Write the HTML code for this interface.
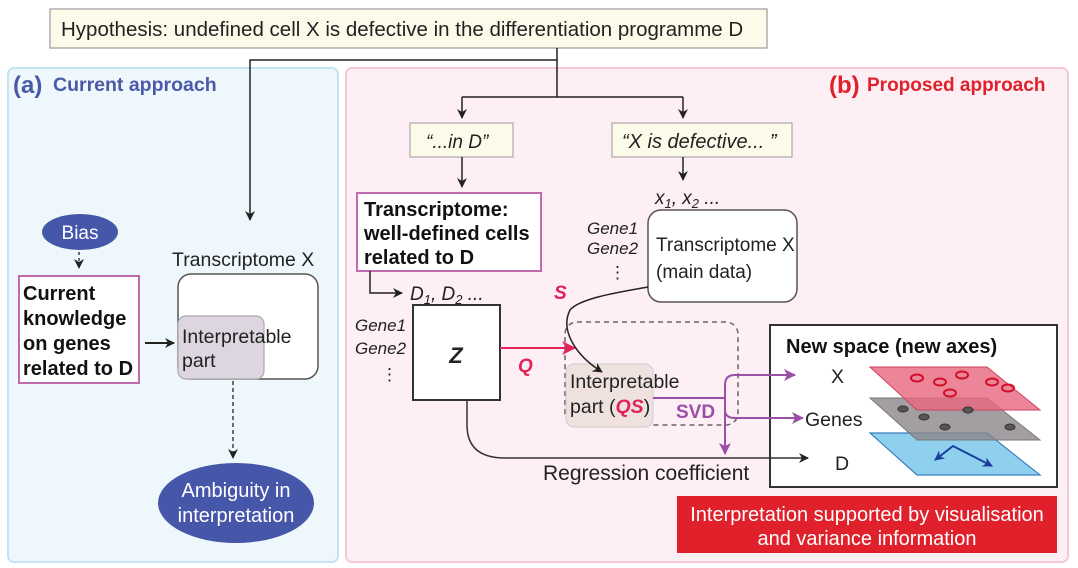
<!DOCTYPE html>
<html><head><meta charset="utf-8"><style>
body{margin:0;background:#fff;}
svg{display:block;font-family:"Liberation Sans",sans-serif;}
</style></head><body>
<svg width="1078" height="568" viewBox="0 0 1078 568" xmlns="http://www.w3.org/2000/svg">
<defs>
<marker id="ak" markerWidth="10" markerHeight="10" refX="9" refY="5" orient="auto" markerUnits="userSpaceOnUse"><path d="M0,0 L10,5 L0,10 L3,5 z" fill="#222"/></marker>
<marker id="ar" markerWidth="14" markerHeight="14" refX="13" refY="7" orient="auto" markerUnits="userSpaceOnUse"><path d="M0,0 L14,7 L0,14 L4,7 z" fill="#e0245a"/></marker>
<marker id="ap" markerWidth="12" markerHeight="12" refX="11" refY="6" orient="auto" markerUnits="userSpaceOnUse"><path d="M0,0 L12,6 L0,12 L3,6 z" fill="#9b4fa6"/></marker>
<marker id="ab" markerWidth="10" markerHeight="10" refX="9" refY="5" orient="auto-start-reverse" markerUnits="userSpaceOnUse"><path d="M0,0 L10,5 L0,10 L3,5 z" fill="#1a3f9a"/></marker>
</defs>
<rect x="8" y="68" width="330" height="494" rx="6" fill="#eef8fc" stroke="#c3e4f0" stroke-width="2"/>
<rect x="346" y="68" width="722" height="494" rx="6" fill="#fdeff4" stroke="#f5c8d8" stroke-width="2"/>
<text x="13" y="93" font-size="24" font-weight="bold" fill="#4a5aa8">(a)</text>
<text x="53" y="91" font-size="19.5" font-weight="bold" fill="#4a5aa8">Current approach</text>
<text x="829" y="93" font-size="24" font-weight="bold" fill="#e0202a">(b)</text>
<text x="867" y="91" font-size="19" font-weight="bold" fill="#e0202a">Proposed approach</text>
<rect x="50" y="9" width="717" height="39" fill="#fcfbea" stroke="#9a9a9a" stroke-width="1.2"/>
<text x="61" y="36" font-size="20.5" fill="#222">Hypothesis: undefined cell X is defective in the differentiation programme D</text>
<path d="M557,48 V60 H250 V220" fill="none" stroke="#222" stroke-width="1.5" marker-end="url(#ak)"/>
<path d="M557,60 V97" fill="none" stroke="#222" stroke-width="1.5"/>
<path d="M462,97 H683" fill="none" stroke="#222" stroke-width="1.5"/>
<path d="M462,97 V118" stroke="#222" stroke-width="1.5" marker-end="url(#ak)"/>
<path d="M683,97 V118" stroke="#222" stroke-width="1.5" marker-end="url(#ak)"/>
<rect x="410" y="123" width="103" height="34" fill="#fcfbea" stroke="#9a9a9a"/>
<text x="426" y="148" font-size="19" font-style="italic" fill="#222">“...in D”</text>
<rect x="612" y="123" width="180" height="34" fill="#fcfbea" stroke="#9a9a9a"/>
<text x="622" y="148" font-size="20" font-style="italic" fill="#222">“X is defective... ”</text>
<path d="M462,157 V187" stroke="#222" stroke-width="1.5" marker-end="url(#ak)"/>
<path d="M683,157 V180" stroke="#222" stroke-width="1.5" marker-end="url(#ak)"/>
<ellipse cx="80" cy="232" rx="38" ry="18" fill="#4657aa"/>
<text x="80" y="239" font-size="19" fill="#fff" text-anchor="middle">Bias</text>
<path d="M79,252 V268" stroke="#222" stroke-width="1.3" stroke-dasharray="3,3" marker-end="url(#ak)"/>
<rect x="19" y="276" width="120" height="107" fill="#fff" stroke="#c06aae" stroke-width="2"/>
<g font-size="20" font-weight="bold" fill="#111">
<text x="23" y="300">Current</text><text x="23" y="325">knowledge</text><text x="23" y="350">on genes</text><text x="23" y="375">related to D</text>
</g>
<path d="M145,343 H174" stroke="#222" stroke-width="2" marker-end="url(#ak)"/>
<text x="172" y="266" font-size="19.5" fill="#222">Transcriptome X</text>
<rect x="178" y="274" width="140" height="105" rx="13" fill="#fff" stroke="#555" stroke-width="1.5"/>
<rect x="178" y="316" width="86" height="63" rx="8" fill="#ddd6e0" stroke="#aaa" stroke-width="1.2"/>
<text x="182" y="343" font-size="19.5" fill="#222">Interpretable</text>
<text x="182" y="367" font-size="19.5" fill="#222">part</text>
<path d="M233,381 V458" stroke="#222" stroke-width="1.3" stroke-dasharray="4,3" marker-end="url(#ak)"/>
<ellipse cx="236" cy="503" rx="78" ry="40" fill="#4657aa"/>
<text x="236" y="497" font-size="20" fill="#fff" text-anchor="middle">Ambiguity in</text>
<text x="236" y="522" font-size="20" fill="#fff" text-anchor="middle">interpretation</text>
<rect x="357" y="193" width="184" height="78" fill="#fff" stroke="#c06aae" stroke-width="2"/>
<g font-size="20" font-weight="bold" fill="#111">
<text x="364" y="216">Transcriptome:</text><text x="364" y="240">well-defined cells</text><text x="364" y="264">related to D</text>
</g>
<path d="M370,271 V293 H402" fill="none" stroke="#222" stroke-width="1.5" marker-end="url(#ak)"/>
<text x="410" y="300" font-size="19" font-style="italic" fill="#222">D<tspan font-size="13" dy="4">1</tspan><tspan dy="-4">, D</tspan><tspan font-size="13" dy="4">2</tspan><tspan dy="-4"> ...</tspan></text>
<g font-size="17" font-style="italic" fill="#222">
<text x="355" y="331">Gene1</text><text x="355" y="354">Gene2</text>
<text x="587" y="234">Gene1</text><text x="587" y="254">Gene2</text>
</g>
<text x="381" y="380" font-size="17" fill="#222">⋮</text>
<text x="609" y="278" font-size="17" fill="#222">⋮</text>
<text x="655" y="204" font-size="19" font-style="italic" fill="#222">x<tspan font-size="13" dy="4">1</tspan><tspan dy="-4">, x</tspan><tspan font-size="13" dy="4">2</tspan><tspan dy="-4"> ...</tspan></text>
<rect x="648" y="210" width="149" height="92" rx="13" fill="#fff" stroke="#555" stroke-width="1.5"/>
<text x="656" y="251" font-size="19" fill="#222">Transcriptome X</text>
<text x="656" y="278" font-size="19" fill="#222">(main data)</text>
<rect x="413" y="305" width="87" height="95" fill="#fff" stroke="#333" stroke-width="2"/>
<text x="456" y="363" font-size="22" font-weight="bold" font-style="italic" fill="#222" text-anchor="middle">Z</text>
<rect x="565" y="322" width="173" height="103" rx="12" fill="none" stroke="#666" stroke-width="1.5" stroke-dasharray="5,4"/>
<rect x="566" y="364" width="87" height="63" rx="8" fill="#efe2de" stroke="#ccc"/>
<path d="M500,348 H575" stroke="#e0245a" stroke-width="2" marker-end="url(#ar)"/>
<text x="518" y="372" font-size="19" font-weight="bold" font-style="italic" fill="#e0245a">Q</text>
<text x="554" y="299" font-size="19" font-weight="bold" font-style="italic" fill="#e0245a">S</text>
<path d="M648,287 C620,292 580,298 570,310 C560,330 575,355 602,372" fill="none" stroke="#222" stroke-width="1.5" marker-end="url(#ak)"/>
<text x="570" y="388" font-size="19.5" fill="#222">Interpretable</text>
<text x="570" y="413" font-size="19.5" fill="#222">part (<tspan fill="#e0245a" font-weight="bold" font-style="italic">QS</tspan>)</text>
<!-- new space box (drawn before arrows) -->
<rect x="770" y="325" width="287" height="162" fill="#fff" stroke="#333" stroke-width="2"/>
<path d="M653,398 H725" stroke="#9b4fa6" stroke-width="2"/>
<text x="676" y="418" font-size="19" font-weight="bold" fill="#9b4fa6">SVD</text>
<path d="M725,420 V385 Q725,375 735,375 H795" fill="none" stroke="#9b4fa6" stroke-width="2" marker-end="url(#ap)"/>
<path d="M725,410 Q725,418 735,418 H803" fill="none" stroke="#9b4fa6" stroke-width="2" marker-end="url(#ap)"/>
<path d="M725,398 V454" stroke="#9b4fa6" stroke-width="2" marker-end="url(#ap)"/>
<path d="M467,400 V425 Q467,458 505,458 H808" fill="none" stroke="#333" stroke-width="1.5" marker-end="url(#ak)"/>
<text x="543" y="480" font-size="21" fill="#222">Regression coefficient</text>
<text x="786" y="353" font-size="20" font-weight="bold" fill="#111">New space (new axes)</text>
<text x="831" y="383" font-size="19.5" fill="#222">X</text>
<text x="805" y="426" font-size="19.5" fill="#222">Genes</text>
<text x="835" y="470" font-size="19.5" fill="#222">D</text>
<polygon points="870,433 987,433 1040,475 917,475" fill="#8ed0ee" stroke="#3b7fc0" stroke-width="1.2"/>
<polygon points="870,398 987,398 1040,440 917,440" fill="#8c8689" fill-opacity="0.8" stroke="#777"/>
<polygon points="870,367 987,367 1040,410 917,410" fill="#e9667f" fill-opacity="0.8" stroke="#d04060"/>
<g fill="none" stroke="#d0102a" stroke-width="2">
<ellipse cx="917" cy="378" rx="6" ry="3.5"/><ellipse cx="940" cy="382" rx="6" ry="3.5"/><ellipse cx="962" cy="375" rx="6" ry="3.5"/><ellipse cx="992" cy="382" rx="6" ry="3.5"/><ellipse cx="950" cy="393" rx="6" ry="3.5"/><ellipse cx="1008" cy="388" rx="6" ry="3.5"/>
</g>
<g fill="#555" stroke="#333">
<ellipse cx="903" cy="409" rx="5" ry="3"/><ellipse cx="924" cy="417" rx="5" ry="3"/><ellipse cx="968" cy="410" rx="5" ry="3"/><ellipse cx="945" cy="427" rx="5" ry="3"/><ellipse cx="1010" cy="427" rx="5" ry="3"/>
</g>
<path d="M935,460 L953,446 L992,466" fill="none" stroke="#1a3f9a" stroke-width="2" marker-start="url(#ab)" marker-end="url(#ab)"/>
<rect x="677" y="496" width="380" height="57" fill="#e0202a"/>
<text x="867" y="521" font-size="20" fill="#fff" text-anchor="middle">Interpretation supported by visualisation</text>
<text x="867" y="545" font-size="20" fill="#fff" text-anchor="middle">and variance information</text>
</svg>
</body></html>
